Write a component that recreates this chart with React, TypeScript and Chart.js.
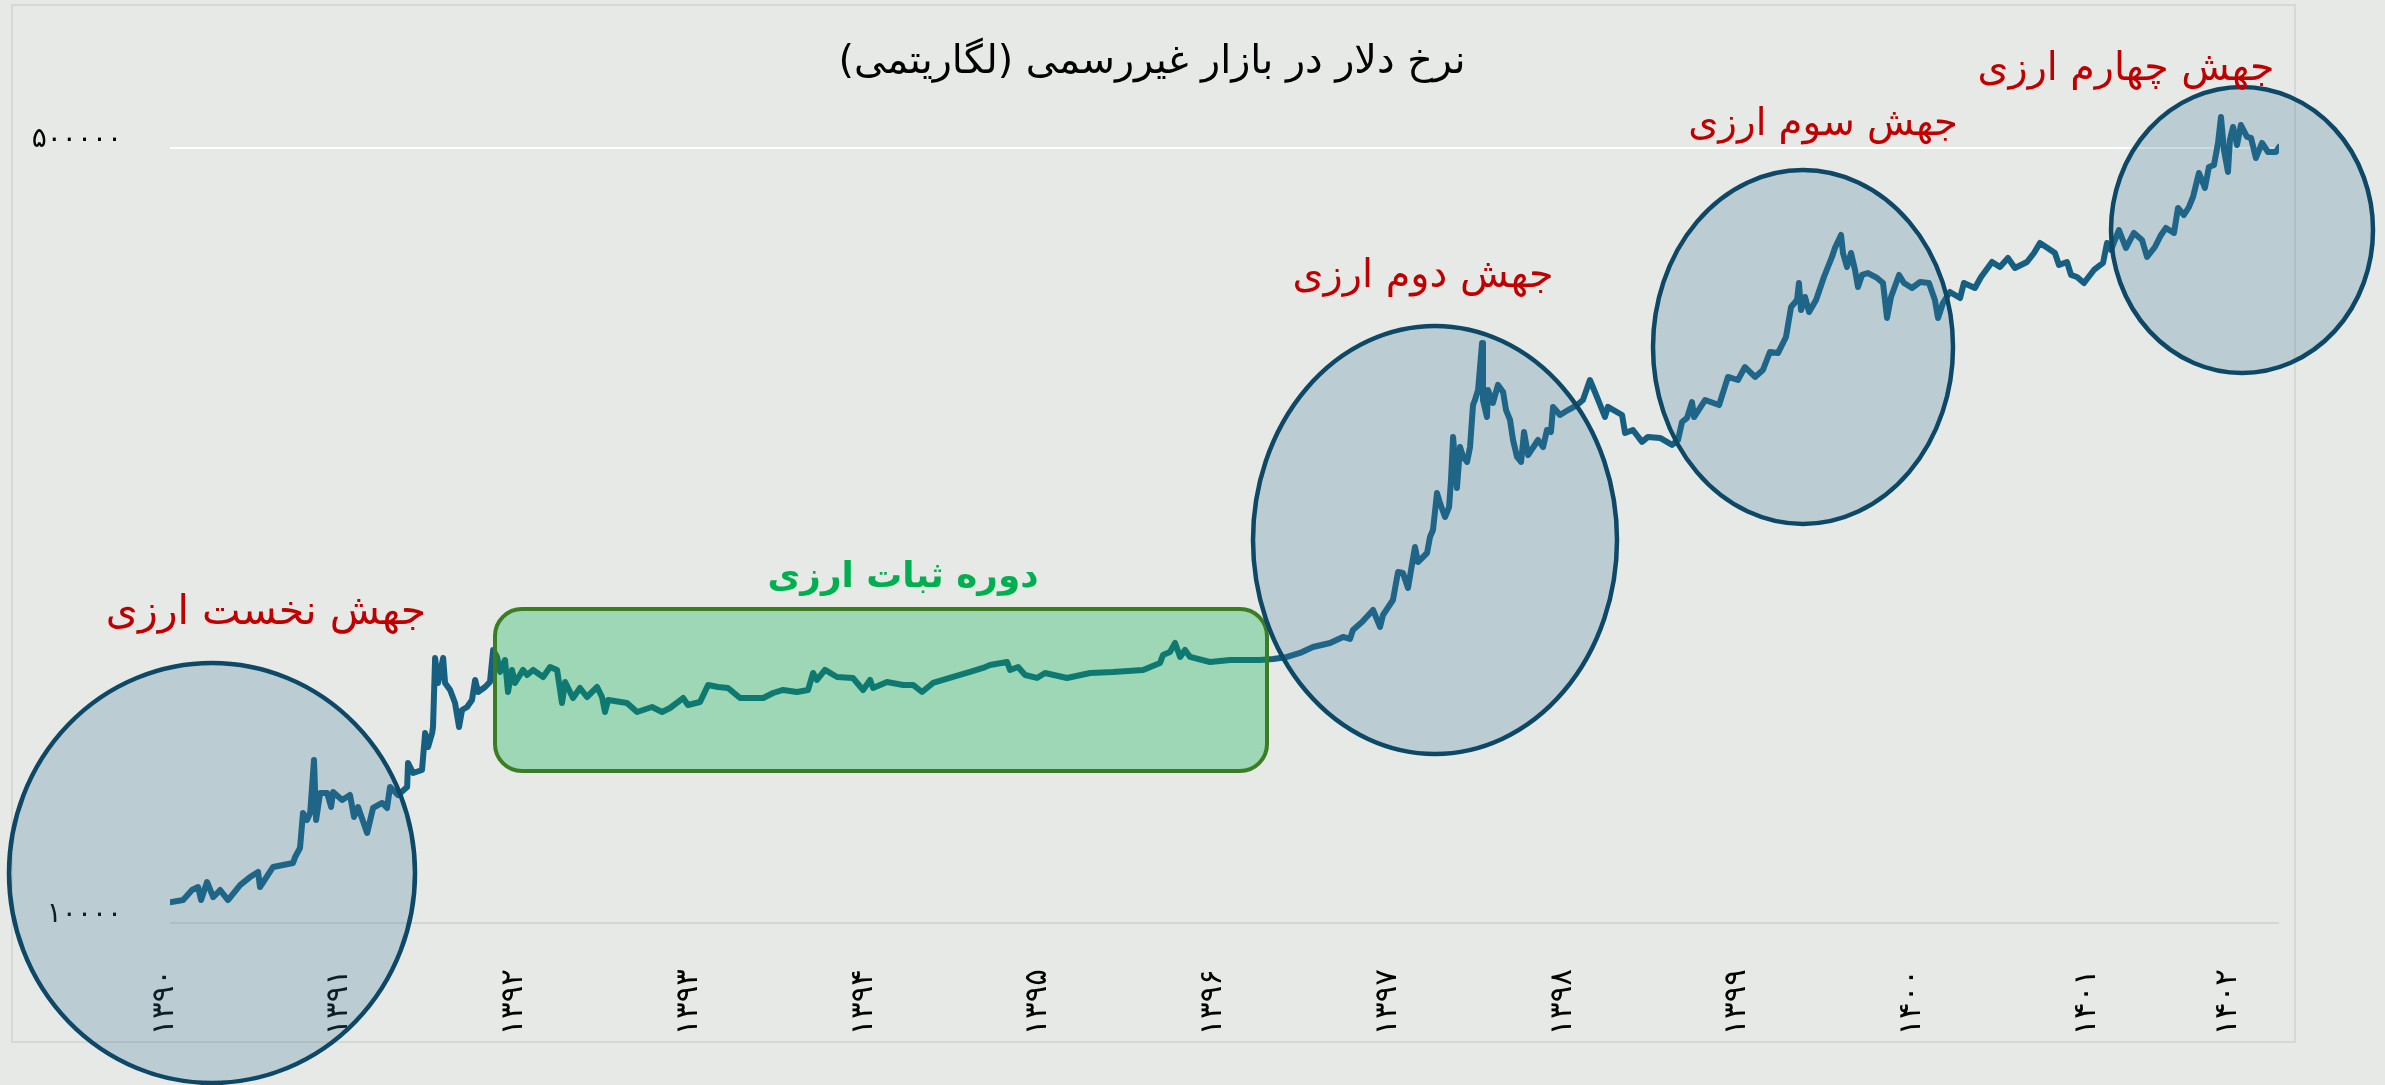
import React, { useEffect, useRef } from "react";
import { Chart, registerables } from "chart.js";

Chart.register(...registerables);

// ---- data (fractional Persian years, rial per USD) ----
const dates = [
  1390.031, 1390.106, 1390.157, 1390.192, 1390.209, 1390.243, 1390.278, 1390.318, 1390.363, 1390.432,
  1390.489, 1390.535, 1390.546, 1390.621, 1390.678, 1390.735, 1390.747, 1390.775, 1390.792, 1390.815,
  1390.833, 1390.855, 1390.867, 1390.890, 1390.930, 1390.953, 1390.964, 1391.016, 1391.061, 1391.084,
  1391.107, 1391.159, 1391.193, 1391.245, 1391.273, 1391.290, 1391.336, 1391.388, 1391.393, 1391.422,
  1391.473, 1391.491, 1391.508, 1391.531, 1391.536, 1391.548, 1391.565, 1391.594, 1391.605, 1391.634,
  1391.662, 1391.685, 1391.702, 1391.731, 1391.759, 1391.777, 1391.794, 1391.834, 1391.862, 1391.880,
  1391.902, 1391.920, 1391.948, 1391.965, 1391.988, 1392.005, 1392.051, 1392.074, 1392.109, 1392.166,
  1392.206, 1392.246, 1392.274, 1392.292, 1392.337, 1392.377, 1392.417, 1392.475, 1392.503, 1392.520,
  1392.538, 1392.646, 1392.704, 1392.789, 1392.847, 1392.892,
  1392.967, 1392.995, 1393.064, 1393.110, 1393.167, 1393.224, 1393.293, 1393.425, 1393.482, 1393.539,
  1393.619, 1393.682, 1393.711, 1393.733, 1393.779, 1393.848, 1393.939, 1393.997, 1394.037, 1394.054,
  1394.134, 1394.226, 1394.283, 1394.334, 1394.397, 1394.512, 1394.609, 1394.683, 1394.723, 1394.821,
  1394.838, 1394.884, 1394.924, 1394.992, 1395.038, 1395.164, 1395.296, 1395.427, 1395.599, 1395.696,
  1395.713, 1395.753, 1395.782, 1395.811, 1395.839, 1395.868,
  1395.982, 1396.097, 1396.268, 1396.343, 1396.423, 1396.497, 1396.571, 1396.669, 1396.743, 1396.783,
  1396.800, 1396.852, 1396.915, 1396.955, 1396.972, 1397.029, 1397.058, 1397.086, 1397.115, 1397.155,
  1397.172, 1397.224, 1397.241, 1397.258, 1397.281, 1397.298, 1397.327, 1397.350, 1397.361, 1397.373,
  1397.395, 1397.413, 1397.430, 1397.453, 1397.470, 1397.487, 1397.498, 1397.516, 1397.539, 1397.544,
  1397.567, 1397.573, 1397.601, 1397.630, 1397.659, 1397.676, 1397.699, 1397.716, 1397.739, 1397.762,
  1397.779, 1397.802, 1397.859, 1397.888, 1397.910, 1397.933, 1397.945, 1397.985, 1398.031, 1398.082,
  1398.116, 1398.156, 1398.196, 1398.242, 1398.259, 1398.340, 1398.357, 1398.402, 1398.454, 1398.488,
  1398.557, 1398.626, 1398.660, 1398.683, 1398.712, 1398.740,
  1398.752, 1398.815, 1398.895, 1398.946, 1399.003, 1399.043, 1399.101, 1399.146, 1399.186, 1399.232,
  1399.278, 1399.307, 1399.341, 1399.352, 1399.364, 1399.387, 1399.410, 1399.450, 1399.495, 1399.541,
  1399.558, 1399.593, 1399.604, 1399.627, 1399.650, 1399.673, 1399.690, 1399.713, 1399.747, 1399.799,
  1399.833, 1399.856, 1399.879, 1399.925, 1399.953, 1399.999, 1400.045, 1400.096, 1400.130, 1400.148,
  1400.176, 1400.216, 1400.274, 1400.296, 1400.359, 1400.394, 1400.457, 1400.502, 1400.548, 1400.588,
  1400.657, 1400.697, 1400.731, 1400.766, 1400.817, 1400.840, 1400.886, 1400.909, 1400.943, 1400.983,
  1401.040, 1401.092, 1401.115, 1401.138, 1401.183, 1401.223, 1401.269, 1401.315, 1401.344, 1401.389,
  1401.424, 1401.452, 1401.498, 1401.521, 1401.555, 1401.584, 1401.607, 1401.641, 1401.675, 1401.698,
  1401.727, 1401.750, 1401.767, 1401.784, 1401.807, 1401.818, 1401.836, 1401.859, 1401.881, 1401.916,
  1401.939, 1401.967, 1402.002, 1402.036, 1402.082, 1402.099,
];

const rates = [
  11100, 11230, 11810, 11990, 11230, 12300, 11400, 11810, 11230, 12110,
  12610, 12940, 11990, 13270, 13400, 13540, 13950, 14600, 17420, 16820,
  17420, 22770, 16820, 19280, 19280, 17960, 19370, 18610, 19080, 17080,
  17960, 15750, 17870, 18330, 17870, 19870, 19080, 19870, 22430, 21320,
  21650, 26090, 24310, 26090, 26900, 38100, 33590, 38100, 33590, 32420,
  30360, 26900, 29300, 29750, 30820, 34100, 32090, 32910, 33760, 39680,
  38300, 35510, 37720, 32090, 35870, 33590, 35870, 34970, 35870, 34620,
  36410, 35870, 30360, 33760, 31130, 32750, 31290, 32910, 31290, 29010,
  30820, 30360, 29010, 29750, 29010, 29600,
  31130, 30050, 30510, 33250, 32910, 32750, 31130, 31130, 31930, 32420,
  32090, 32420, 35330, 34100, 35870, 34620, 34450, 32420, 34100, 32750,
  33760, 33250, 33250, 32090, 33590, 34620, 35510, 36230, 36780, 37340,
  35870, 36410, 34970, 34450, 35330, 34450, 35330, 35510, 35870, 37160,
  38690, 39280, 41100, 38300, 39680, 38300,
  37340, 37720, 37720, 37910, 38300, 39080, 40280, 41100, 42370, 41940,
  43890, 45690, 48550, 44560, 47340, 51060, 58810, 58510, 54250, 66720,
  61850, 64730, 70170, 72700, 87610, 83300, 77620, 81640, 93550, 116300,
  89850, 110500, 105100, 102500, 110500, 136600, 140100, 147400, 186800, 140100,
  128600, 147400, 138000, 151200, 145900, 133200, 126700, 114500, 105100, 102500,
  119200, 106100, 114500, 110500, 120400, 119200, 135300, 129900, 133200, 136600,
  140100, 155000, 142300, 128600, 135300, 129900, 118600, 120400, 113400, 116300,
  115700, 111700, 114500, 125400, 128000, 138700,
  128600, 140100, 136600, 157400, 155000, 165500, 157400, 163000, 178500, 177600,
  192600, 224100, 232100, 252900, 220700, 235700, 218500, 232100, 260700, 288400,
  301800, 322300, 294300, 274200, 294300, 270100, 247900, 263400, 266000, 259400,
  252900, 212000, 235700, 263400, 252900, 246600, 254200, 252900, 232100, 212000,
  228600, 241700, 234500, 252900, 246600, 260700, 281200, 274200, 287000, 272800,
  281200, 294300, 309500, 303300, 294300, 277000, 281200, 263400, 260700, 252900,
  270100, 279800, 309500, 298800, 330500, 301800, 325600, 314300, 288400, 303300,
  322300, 333900, 325600, 369400, 356500, 371200, 390500, 440700, 408600, 454300,
  458900, 512800, 584700, 495000, 442900, 520600, 555900, 507600, 561500, 528600,
  525900, 475400, 512800, 490000, 490000, 502500,
];

const xTickYears = [1390, 1391, 1392, 1393, 1394, 1395, 1396, 1397, 1398, 1399, 1400, 1401, 1401.807];
const xTickLabels = ["۱۳۹۰", "۱۳۹۱", "۱۳۹۲", "۱۳۹۳", "۱۳۹۴", "۱۳۹۵", "۱۳۹۶", "۱۳۹۷", "۱۳۹۸", "۱۳۹۹", "۱۴۰۰", "۱۴۰۱", "۱۴۰۲"];
const yTickValues = [10000, 500000];
const yTickLabels = ["۱۰۰۰۰", "۵۰۰۰۰۰"];

const chartTitle = "نرخ دلار در بازار غیررسمی (لگاریتمی)";
const labelTexts = ["جهش نخست ارزی", "دوره ثبات ارزی", "جهش دوم ارزی", "جهش سوم ارزی", "جهش چهارم ارزی"];

// ---- layout / styles ----
const W = 2385;
const H = 1085;
const BG = "#E7E9E6";
const LINE = "#165F81";
const FONT = "'DejaVu Sans', sans-serif";

const ellipses = [
  { cx: 212, cy: 873, rx: 203, ry: 210 },
  { cx: 1435, cy: 540, rx: 182, ry: 214 },
  { cx: 1803, cy: 347, rx: 150, ry: 177 },
  { cx: 2242, cy: 230, rx: 131, ry: 143 },
];
const labelBoxes = [
  { cx: 266, cy: 613, w: 320, color: "#C00000", bold: false },
  { cx: 903, cy: 578, w: 271, color: "#00B050", bold: true },
  { cx: 1423, cy: 277, w: 261, color: "#C00000", bold: false },
  { cx: 1823, cy: 125, w: 270, color: "#C00000", bold: false },
  { cx: 2126, cy: 70, w: 297, color: "#C00000", bold: false },
];

function drawFitText(ctx: CanvasRenderingContext2D, text: string, cx: number, cy: number, w: number, color: string, bold: boolean) {
  ctx.save();
  const weight = bold ? "bold " : "";
  ctx.font = `${weight}100px ${FONT}`;
  (ctx as any).direction = "rtl";
  const m = ctx.measureText(text).width;
  const size = (100 * w) / m;
  ctx.font = `${weight}${size.toFixed(1)}px ${FONT}`;
  ctx.fillStyle = color;
  ctx.textAlign = "center";
  ctx.textBaseline = "middle";
  ctx.fillText(text, cx, cy);
  ctx.restore();
}

const decorPlugin = {
  id: "decor",
  beforeDraw(chart: any) {
    const ctx = chart.ctx as CanvasRenderingContext2D;
    ctx.save();
    ctx.fillStyle = BG;
    ctx.fillRect(0, 0, chart.width, chart.height);
    ctx.strokeStyle = "#D6D8D5";
    ctx.lineWidth = 2;
    ctx.strokeRect(12, 5, 2283, 1037);
    ctx.restore();
  },
  afterDatasetsDraw(chart: any) {
    const ctx = chart.ctx as CanvasRenderingContext2D;
    ctx.save();
    // stability period box
    ctx.beginPath();
    (ctx as any).roundRect(495, 609, 772, 162, 27);
    ctx.fillStyle = "rgba(0,176,80,0.32)";
    ctx.fill();
    ctx.lineWidth = 4;
    ctx.strokeStyle = "#3B7D23";
    ctx.stroke();
    // jump ellipses
    for (const e of ellipses) {
      ctx.beginPath();
      ctx.ellipse(e.cx, e.cy, e.rx, e.ry, 0, 0, Math.PI * 2);
      ctx.fillStyle = "rgba(55,121,154,0.25)";
      ctx.fill();
      ctx.lineWidth = 4.5;
      ctx.strokeStyle = "#0D4866";
      ctx.stroke();
    }
    ctx.restore();
  },
  afterDraw(chart: any) {
    const ctx = chart.ctx as CanvasRenderingContext2D;
    drawFitText(ctx, chartTitle, 1152, 63, 627, "#000000", false);
    labelBoxes.forEach((b, i) => drawFitText(ctx, labelTexts[i], b.cx, b.cy, b.w, b.color, b.bold));
  },
};

export default function App() {
  const ref = useRef<HTMLCanvasElement | null>(null);

  useEffect(() => {
    document.body.style.margin = "0";
    document.body.style.background = BG;
    const canvas = ref.current;
    if (!canvas) return;
    const chart = new Chart(canvas, {
      type: "line",
      data: {
        datasets: [
          {
            data: dates.map((d, i) => ({ x: d, y: rates[i] })),
            borderColor: LINE,
            borderWidth: 6,
            pointRadius: 0,
            tension: 0,
            fill: false,
            borderJoinStyle: "round",
            borderCapStyle: "round",
          } as any,
        ],
      },
      options: {
        responsive: false,
        animation: false,
        devicePixelRatio: 1,
        layout: { padding: { left: 0, top: 96, right: W - 2279, bottom: 0 } },
        plugins: {
          legend: { display: false },
          tooltip: { enabled: false },
          title: { display: false },
        },
        scales: {
          x: {
            type: "linear",
            min: 1390.031,
            max: 1402.099,
            grid: { display: false },
            border: { display: false },
            afterBuildTicks: (scale: any) => {
              scale.ticks = xTickYears.map((v) => ({ value: v }));
            },
            afterFit: (scale: any) => {
              scale.height = H - 923;
            },
            ticks: {
              autoSkip: false,
              minRotation: 90,
              maxRotation: 90,
              padding: 38,
              color: "#000000",
              font: { family: FONT, size: 31 },
              callback: (_v: any, i: number) => xTickLabels[i],
            },
          },
          y: {
            type: "logarithmic",
            min: 10000,
            max: 650000,
            border: { display: false },
            grid: {
              drawTicks: false,
              lineWidth: 2,
              color: (c: any) => (c.tick && c.tick.value === 10000 ? "#D5D7D4" : "#FFFFFF"),
            },
            afterBuildTicks: (scale: any) => {
              scale.ticks = yTickValues.map((v) => ({ value: v }));
            },
            afterFit: (scale: any) => {
              scale.width = 170;
            },
            ticks: {
              autoSkip: false,
              padding: 48,
              labelOffset: -8,
              color: "#000000",
              font: { family: FONT, size: 28 },
              callback: (_v: any, i: number) => yTickLabels[i],
            },
          },
        },
      } as any,
      plugins: [decorPlugin],
    });
    return () => chart.destroy();
  }, []);

  return (
    <div style={{ width: W, height: H, overflow: "hidden" }}>
      <canvas ref={ref} width={W} height={H} style={{ display: "block", width: W, height: H }} />
    </div>
  );
}
